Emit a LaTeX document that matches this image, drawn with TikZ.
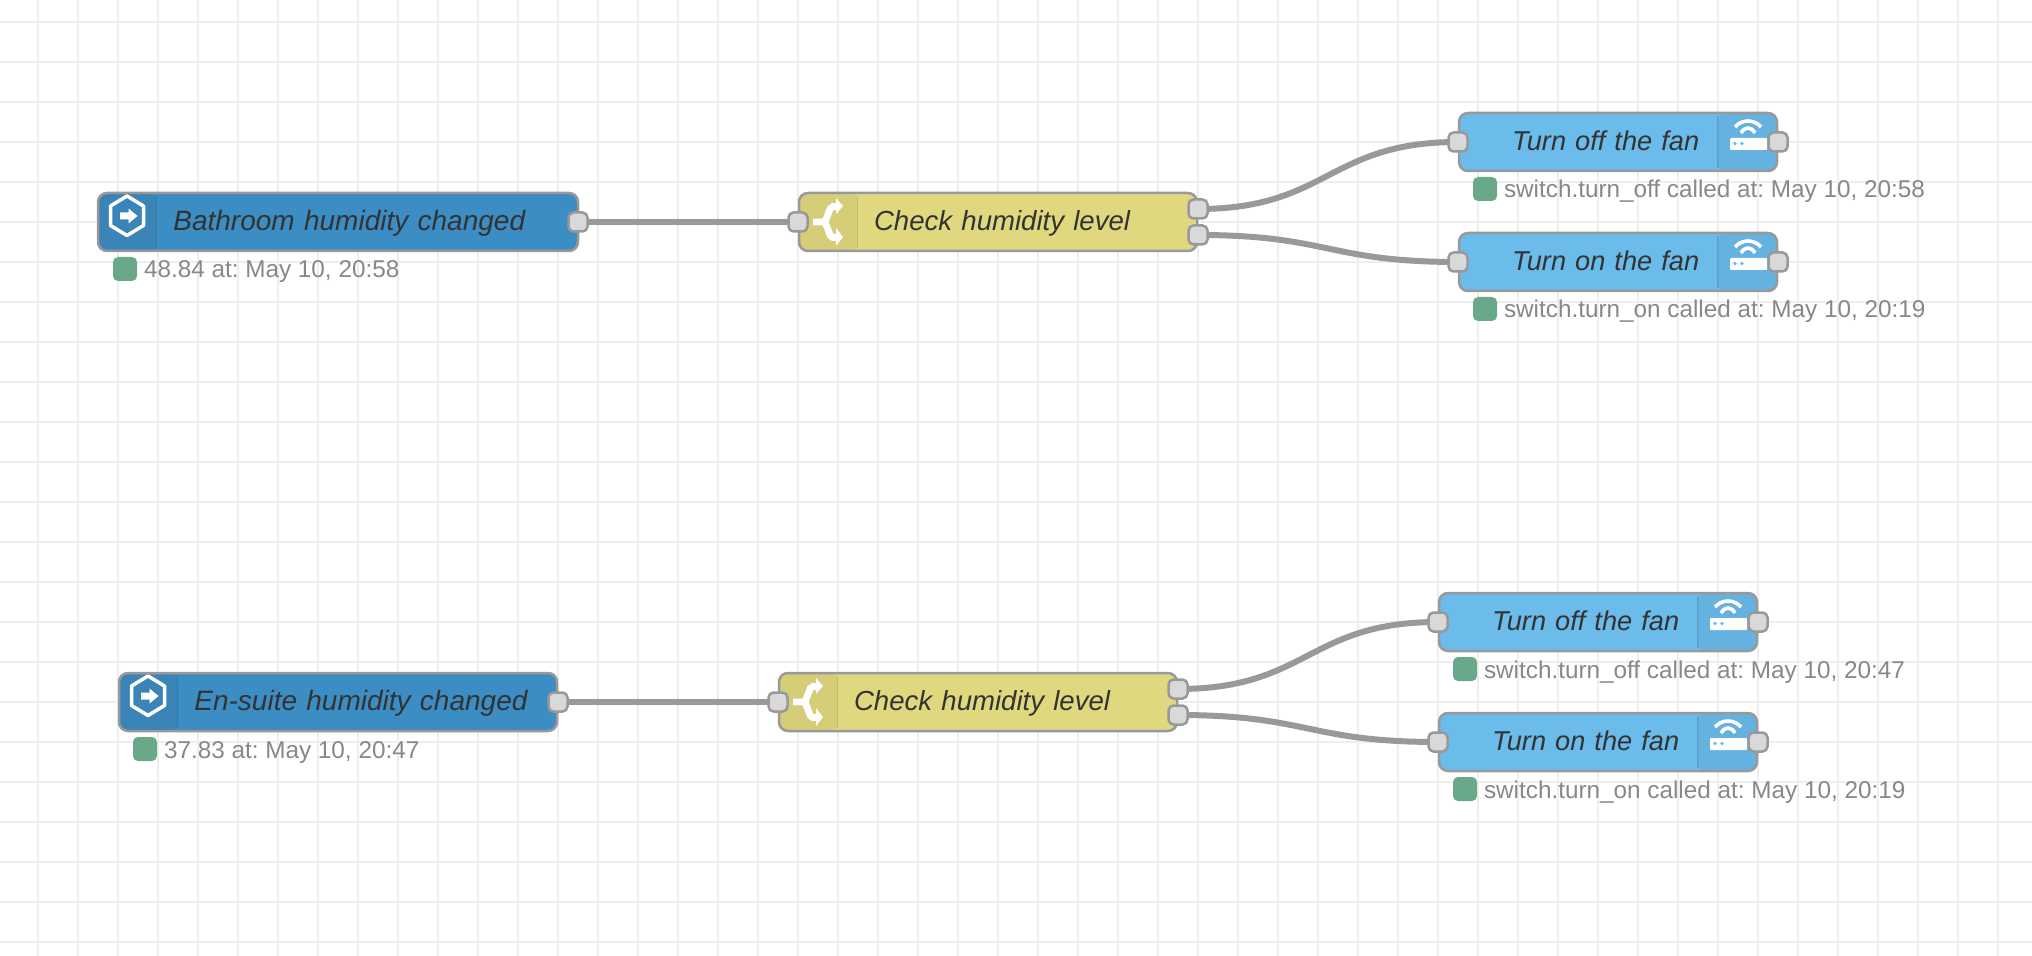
\documentclass[tikz,border=0pt]{standalone}
\usepackage{fontspec}
\setmainfont{Liberation Sans}
\usetikzlibrary{positioning, backgrounds}
\frenchspacing

\definecolor{gridgrey}{HTML}{EEEEEE}
\definecolor{edgegrey}{HTML}{999999}
\definecolor{portgrey}{HTML}{D9D9D9}
\definecolor{triggerblue}{HTML}{3C8DC3}
\definecolor{triggertab}{HTML}{3A84B8}
\definecolor{switchyellow}{HTML}{E0D87E}
\definecolor{switchtab}{HTML}{D5CD78}
\definecolor{actionblue}{HTML}{6BBBEB}
\definecolor{actiontab}{HTML}{65B1E0}
\definecolor{statusgreen}{HTML}{6AA88A}
\definecolor{labelgrey}{HTML}{333333}
\definecolor{statusgrey}{HTML}{888888}

\begin{document}
\begin{tikzpicture}[
    x=0.5pt, y=-0.5pt,
    basebox/.style={rectangle, rounded corners=4.5pt, draw=edgegrey, line width=1.25pt, anchor=west, outer sep=0pt, inner sep=0pt, minimum height=29pt, align=left, text=labelgrey, text height=11pt, text depth=2.7pt},
    tabfirst/.style={path picture={
        \fill[#1] (path picture bounding box.south west) rectangle ([xshift=29.5pt]path picture bounding box.north west);
        \draw[#1!92!black, line width=0.75pt] ([xshift=29.3pt, yshift=-1.5pt]path picture bounding box.north west) -- ([xshift=29.3pt, yshift=1.5pt]path picture bounding box.south west);}},
    tablast/.style={path picture={
        \fill[#1] (path picture bounding box.south east) rectangle ([xshift=-29.5pt]path picture bounding box.north east);
        \draw[#1!92!black, line width=0.75pt] ([xshift=-29.5pt, yshift=-1.5pt]path picture bounding box.north east) -- ([xshift=-29.5pt, yshift=1.5pt]path picture bounding box.south east);}},
    triggerbox/.style={basebox, text width=#1, fill=triggerblue, tabfirst=triggertab, font=\fontsize{14}{16}\selectfont\itshape, execute at begin node=\hspace*{37.7pt}},
    switchbox/.style={basebox, text width=199pt, fill=switchyellow, tabfirst=switchtab, font=\fontsize{13.8}{16}\selectfont\itshape, execute at begin node=\hspace*{37.5pt}},
    actionbox/.style={basebox, text width=159pt, fill=actionblue, tablast=actiontab, font=\fontsize{13.6}{16}\selectfont\itshape, execute at begin node=\hspace*{26.6pt}},
    port/.style={rectangle, rounded corners=2.5pt, draw=edgegrey, line width=1.25pt, fill=portgrey, minimum size=9.5pt, inner sep=0pt, outer sep=0pt},
    statusdot/.style={rectangle, rounded corners=2.5pt, fill=statusgreen, minimum size=12pt, inner sep=0pt, outer sep=0pt},
    statustext/.style={inner sep=0pt, outer sep=0pt, text=statusgrey, text height=10pt, text depth=1pt, font=\fontsize{12.15}{14}\selectfont},
    gridline/.style={gridgrey, line width=1pt},
    wire/.style={edgegrey, line width=3pt},
    pics/triggericon/.style={code={
        \draw[white, line width=1.75pt, line join=round] (0,-26) -- (16.5,-16) -- (16.5,3.5) -- (0,13.5) -- (-16.5,3.5) -- (-16.5,-16) -- cycle;
        \fill[white] (-7,-9.5) -- (1.5,-9.5) -- (1.5,-13.5) -- (10.5,-6) -- (1.5,1.5) -- (1.5,-2.5) -- (-7,-2.5) -- cycle;}},
    pics/switchicon/.style={code={
        \draw[white, line width=3.4pt, rounded corners=1pt] (-15,0) -- (-3,0) -- (3,-15.5) -- (9,-15.5);
        \draw[white, line width=3.4pt, rounded corners=1pt] (-3,0) -- (3,15.5) -- (9,15.5);
        \fill[white] (8,-24) -- (15,-16) -- (8,-8) -- cycle;
        \fill[white] (8,6) -- (15,15) -- (8,24) -- cycle;}},
    pics/routericon/.style={code={
        \fill[white, rounded corners=0.5pt] (-18,-4) rectangle (19,8);
        \fill[actionblue] (-13,1.5) circle (1.9) (-6,1.5) circle (1.9);
        \draw[white, line width=1.8pt] (-13,-15) .. controls (-6,-23) and (6,-23) .. (13,-15);
        \draw[white, line width=1.8pt] (-7,-9) .. controls (-3,-15.7) and (3,-15.7) .. (7,-9);}}
]

\useasboundingbox (0,0) rectangle (2032,956);

% Canvas grid
\begin{scope}[on background layer]
\fill[white] (0,0) rectangle (2032,956);
\foreach \gx in {38,78,...,2018} \draw[gridline] (\gx,0) -- (\gx,956);
\foreach \gy in {22,62,...,942} \draw[gridline] (0,\gy) -- (2032,\gy);
\end{scope}

% Bathroom flow
\node[triggerbox=240pt] (bath) at (98,222) {Bathroom humidity changed};
\node[switchbox] (bathcheck) at (799,222) {Check humidity level};
\node[actionbox] (bathoff) at (1459,142) {Turn off the fan};
\node[actionbox] (bathon) at (1459,262) {Turn on the fan};

\pic at (127,222) {triggericon};
\pic at (828,222) {switchicon};
\pic at (1748,142) {routericon};
\pic at (1748,262) {routericon};

\node[port] (bathout) at (578,222) {};
\node[port] (bathcheckin) at (798,222) {};
\node[port] (bathcheckhi) at (1198,209) {};
\node[port] (bathchecklo) at (1198,235) {};
\node[port] (bathoffin) at (1458,142) {};
\node[port] (bathoffout) at (1778,142) {};
\node[port] (bathonin) at (1458,262) {};
\node[port] (bathonout) at (1778,262) {};

\node[statusdot] (bathdot) at (125,269) {};
\node[statustext, right=3.5pt of bathdot] (bathstatus) {48.84 at: May 10, 20:58};
\node[statusdot] (bathoffdot) at (1485,189) {};
\node[statustext, right=3.5pt of bathoffdot] (bathoffstatus) {switch.turn\_off called at: May 10, 20:58};
\node[statusdot] (bathondot) at (1485,309) {};
\node[statustext, right=3.5pt of bathondot] (bathonstatus) {switch.turn\_on called at: May 10, 20:19};

% En-suite flow
\node[triggerbox=219pt] (suite) at (119,702) {En-suite humidity changed};
\node[switchbox] (suitecheck) at (779,702) {Check humidity level};
\node[actionbox] (suiteoff) at (1439,622) {Turn off the fan};
\node[actionbox] (suiteon) at (1439,742) {Turn on the fan};

\pic at (148,702) {triggericon};
\pic at (808,702) {switchicon};
\pic at (1728,622) {routericon};
\pic at (1728,742) {routericon};

\node[port] (suiteout) at (558,702) {};
\node[port] (suitecheckin) at (778,702) {};
\node[port] (suitecheckhi) at (1178,689) {};
\node[port] (suitechecklo) at (1178,715) {};
\node[port] (suiteoffin) at (1438,622) {};
\node[port] (suiteoffout) at (1758,622) {};
\node[port] (suiteonin) at (1438,742) {};
\node[port] (suiteonout) at (1758,742) {};

\node[statusdot] (suitedot) at (145,749) {};
\node[statustext, right=3.5pt of suitedot] (suitestatus) {37.83 at: May 10, 20:47};
\node[statusdot] (suiteoffdot) at (1465,669) {};
\node[statustext, right=3.5pt of suiteoffdot] (suiteoffstatus) {switch.turn\_off called at: May 10, 20:47};
\node[statusdot] (suiteondot) at (1465,789) {};
\node[statustext, right=3.5pt of suiteondot] (suiteonstatus) {switch.turn\_on called at: May 10, 20:19};

% Wires
\begin{scope}[on background layer]
\draw[wire] (bathout.center) -- (bathcheckin.center);
\draw[wire] (bathcheckhi.center) .. controls +(130,0) and +(-130,0) .. (bathoffin.center);
\draw[wire] (bathchecklo.center) .. controls +(130,0) and +(-130,0) .. (bathonin.center);
\draw[wire] (suiteout.center) -- (suitecheckin.center);
\draw[wire] (suitecheckhi.center) .. controls +(130,0) and +(-130,0) .. (suiteoffin.center);
\draw[wire] (suitechecklo.center) .. controls +(130,0) and +(-130,0) .. (suiteonin.center);
\end{scope}

\end{tikzpicture}
\end{document}
